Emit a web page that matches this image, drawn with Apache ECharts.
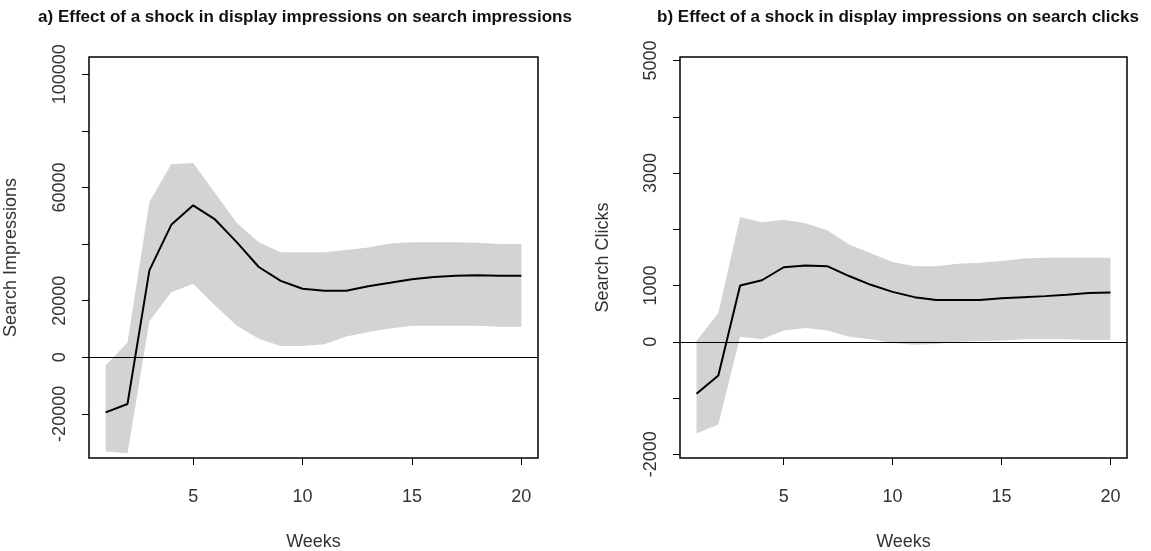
<!DOCTYPE html>
<html>
<head>
<meta charset="utf-8">
<script src="https://cdn.jsdelivr.net/npm/echarts@6/dist/echarts.min.js"></script>
<style>
html,body{margin:0;padding:0;background:#fff;}
#chart{width:1151px;height:551px;}
</style>
</head>
<body>
<div id="chart"></div>
<script>
const weeks = [1,2,3,4,5,6,7,8,9,10,11,12,13,14,15,16,17,18,19,20];

const imprMean  = [-19500,-16500,30700,46800,53700,48700,40600,31900,27000,24200,23500,23500,25100,26300,27600,28400,28800,29000,28800,28800];
const imprUpper = [-2900,5200,54900,68200,68600,58000,47400,40600,37100,37100,37100,37900,38800,40200,40600,40600,40600,40500,40000,40000];
const imprLower = [-33300,-33900,12700,23000,26000,18300,11100,6500,4000,4000,4600,7300,8900,10200,11100,11100,11100,11100,10800,10800];

const clickMean  = [-925,-600,1000,1094,1325,1356,1344,1169,1013,888,794,744,744,744,775,794,812,838,869,875];
const clickUpper = [20,513,2219,2125,2169,2106,1981,1731,1575,1419,1344,1344,1388,1406,1438,1481,1494,1494,1494,1494];
const clickLower = [-1630,-1470,88,44,200,244,200,88,44,-19,-50,-38,0,13,25,44,44,44,31,31];

const xTicks = [5,10,15,20];
const imprTicks = [-20000,0,20000,40000,60000,80000,100000];
const imprLabels = [-20000,0,20000,60000,100000];
const clickTicks = [-2000,-1000,0,1000,2000,3000,4000,5000];
const clickLabels = [-2000,0,1000,3000,5000];

const titleA = 'a) Effect of a shock in display impressions on search impressions';
const titleB = 'b) Effect of a shock in display impressions on search clicks';

const FONT = 'Liberation Sans, Arial, sans-serif';
const TXT = '#333';

function pairs(xs, ys){ return xs.map((x,i)=>[x, ys[i]]); }

function xAxisCfg(idx){
  return {
    gridIndex: idx, type: 'value', min: 0.24, max: 20.76,
    name: 'Weeks', nameLocation: 'middle', nameGap: 75,
    nameTextStyle: {fontSize: 18, color: TXT, fontFamily: FONT},
    splitLine: {show: false},
    axisLine: {show: false, onZero: false},
    axisTick: {show: true, length: 7, customValues: xTicks, lineStyle: {color: '#000', width: 1}},
    axisLabel: {customValues: xTicks, fontSize: 18, color: TXT, fontFamily: FONT, margin: 30,
                formatter: v => String(v)}
  };
}
function yAxisCfg(idx, min, max, ticks, labels, name, gap){
  return {
    gridIndex: idx, type: 'value', min: min, max: max,
    name: name, nameLocation: 'middle', nameRotate: 90, nameGap: gap,
    nameTextStyle: {fontSize: 18, color: TXT, fontFamily: FONT},
    splitLine: {show: false},
    axisLine: {show: false, onZero: false},
    axisTick: {show: true, length: 7, customValues: ticks, lineStyle: {color: '#000', width: 1}},
    axisLabel: {customValues: labels, rotate: 90, fontSize: 18, color: TXT, fontFamily: FONT, margin: 20,
                formatter: v => String(v)}
  };
}
function bandSeries(idx, lower, upper){
  return {
    type: 'custom', xAxisIndex: idx, yAxisIndex: idx, silent: true, z: 1,
    data: weeks.map((w,i)=>[w, lower[i], upper[i]]),
    encode: {x: 0, y: [1, 2]},
    renderItem: function(params, api){
      if (params.dataIndex !== 0) return null;
      const pts = [];
      for (let i = 0; i < weeks.length; i++) pts.push(api.coord([weeks[i], upper[i]]));
      for (let i = weeks.length - 1; i >= 0; i--) pts.push(api.coord([weeks[i], lower[i]]));
      return {type: 'polygon', shape: {points: pts}, style: {fill: '#d3d3d3', stroke: null}};
    }
  };
}
function meanSeries(idx, mean){
  return {type: 'line', xAxisIndex: idx, yAxisIndex: idx, data: pairs(weeks, mean),
    symbol: 'none', lineStyle: {color: '#000', width: 2}, silent: true, z: 3,
    markLine: {silent: true, symbol: 'none', label: {show: false},
      lineStyle: {color: '#000', width: 1, type: 'solid'}, data: [{yAxis: 0}]}};
}

const chart = echarts.init(document.getElementById('chart'), null, {renderer: 'canvas'});
chart.setOption({
  animation: false,
  backgroundColor: '#fff',
  title: [
    {text: titleA, left: 300, top: 4, textAlign: 'center',
     textStyle: {fontSize: 17, fontWeight: 'bold', color: '#111', fontFamily: FONT}},
    {text: titleB, left: 893, top: 4, textAlign: 'center',
     textStyle: {fontSize: 17, fontWeight: 'bold', color: '#111', fontFamily: FONT}}
  ],
  grid: [
    {left: 89, right: 613, top: 57, bottom: 93, show: true, borderColor: '#000', borderWidth: 1.5,
     backgroundColor: 'transparent', containLabel: false, outerBoundsMode: 'none'},
    {left: 680, right: 24, top: 57, bottom: 93, show: true, borderColor: '#000', borderWidth: 1.5,
     backgroundColor: 'transparent', containLabel: false, outerBoundsMode: 'none'}
  ],
  xAxis: [xAxisCfg(0), xAxisCfg(1)],
  yAxis: [
    yAxisCfg(0, -35600, 106100, imprTicks, imprLabels, 'Search Impressions', 69),
    yAxisCfg(1, -2065, 5062, clickTicks, clickLabels, 'Search Clicks', 68)
  ],
  series: [
    bandSeries(0, imprLower, imprUpper),
    meanSeries(0, imprMean),
    bandSeries(1, clickLower, clickUpper),
    meanSeries(1, clickMean)
  ]
});
</script>
</body>
</html>
